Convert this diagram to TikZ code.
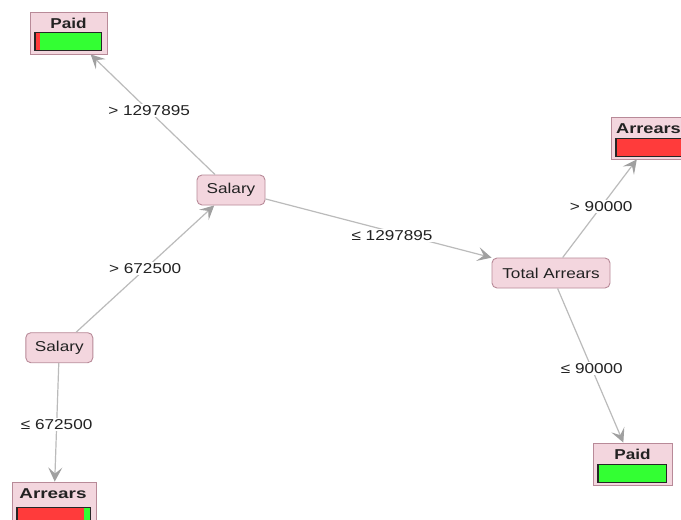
\documentclass[tikz,border=0pt]{standalone}
\usepackage{fontspec}
\setmainfont{Liberation Sans}[FakeStretch=1.2]
\usetikzlibrary{arrows.meta,calc}
\definecolor{nodefill}{HTML}{F3D6DE}
\definecolor{nodedraw}{HTML}{B88A98}
\definecolor{edgegray}{HTML}{BBBBBB}
\definecolor{tipgray}{HTML}{A0A0A0}
\definecolor{barred}{HTML}{FF3B3B}
\definecolor{bargreen}{HTML}{33FF33}
\definecolor{txt}{HTML}{222222}
\tikzset{
  inner/.style={draw=nodedraw, fill=nodefill, rounded corners=5pt, line width=0.9pt,
    minimum height=30pt, inner sep=0pt, text=txt, font=\fontsize{14.3}{16}\selectfont},
  leafbox/.style={draw=nodedraw, fill=nodefill, line width=0.9pt, minimum height=42pt, inner sep=0pt},
  leaflabel/.style={inner sep=0pt, anchor=base, text=txt, font=\fontsize{14.3}{16}\selectfont\bfseries},
  conn/.style={draw=edgegray, line width=1.2pt,
    -{Stealth[length=14pt, width=14pt, inset=6pt, fill=tipgray, color=tipgray]}},
  elabel/.style={fill=white, inner sep=1.5pt, text=txt, font=\fontsize{14.3}{16}\selectfont}
}
% #1 name, #2 centre, #3 width, #4 label, #5 red fraction, #6 bar top offset, #7 label x shift
\newcommand\leafnode[7]{%
  \node[leafbox, minimum width=#3] (#1) at #2 {};
  \node[leaflabel] (#1-t) at ($(#1.north)+(#7,17)$) {#4};
  \coordinate (#1-a) at ($(#1.north west)+(5.5,#6)$);
  \coordinate (#1-b) at ($(#1-a)+(#3-10.5,18)$);
  \coordinate (#1-c) at (#1-b |- #1-a);
  \coordinate (#1-m) at ($(#1-a)!#5!(#1-c)$);
  \fill[barred] (#1-a) rectangle (#1-m |- #1-b);
  \fill[bargreen] (#1-m) rectangle (#1-b);
  \draw[black!85, line width=1.3pt] (#1-a) rectangle (#1-b);
}
\begin{document}
\begin{tikzpicture}[x=1pt, y=-1pt]
\useasboundingbox (0,0) rectangle (681,520);
\fill[white] (0,0) rectangle (681,520);

% inner nodes
\node[inner, minimum width=68pt] (s1) at (231,190) {Salary};
\node[inner, minimum width=67pt] (s2) at (59.3,347.7) {Salary};
\node[inner, minimum width=118pt] (t1) at (551,273) {Total Arrears};

% leaves
\leafnode{p1}{(68.5,33)}{77}{Paid}{0.07}{21}{0}
\leafnode{a1}{(653,138)}{84}{\scalebox{1.06}[1]{Arrears}}{1}{22}{-4.5}
\leafnode{a2}{(54,503)}{84}{\scalebox{1.1}[1]{Arrears}}{0.91}{26}{-1}
\leafnode{p2}{(632.5,464)}{79}{Paid}{0}{22}{0}

% connectors
\draw[conn] (s1) -- node[elabel, pos=0.53] (l1) {> 1297895} (p1);
\draw[conn] (s2) -- node[elabel, pos=0.5] (l2) {> 672500} (s1);
\draw[conn] (s1) -- node[elabel, pos=0.56, yshift=-4pt] (l3) {≤ 1297895} (t1);
\draw[conn] (s2) -- node[elabel, pos=0.52] (l4) {≤ 672500} (a2);
\draw[conn] (t1) -- node[elabel, pos=0.52] (l5) {> 90000} (a1);
\draw[conn] (t1) -- node[elabel, pos=0.52] (l6) {≤ 90000} (p2);
\end{tikzpicture}
\end{document}
